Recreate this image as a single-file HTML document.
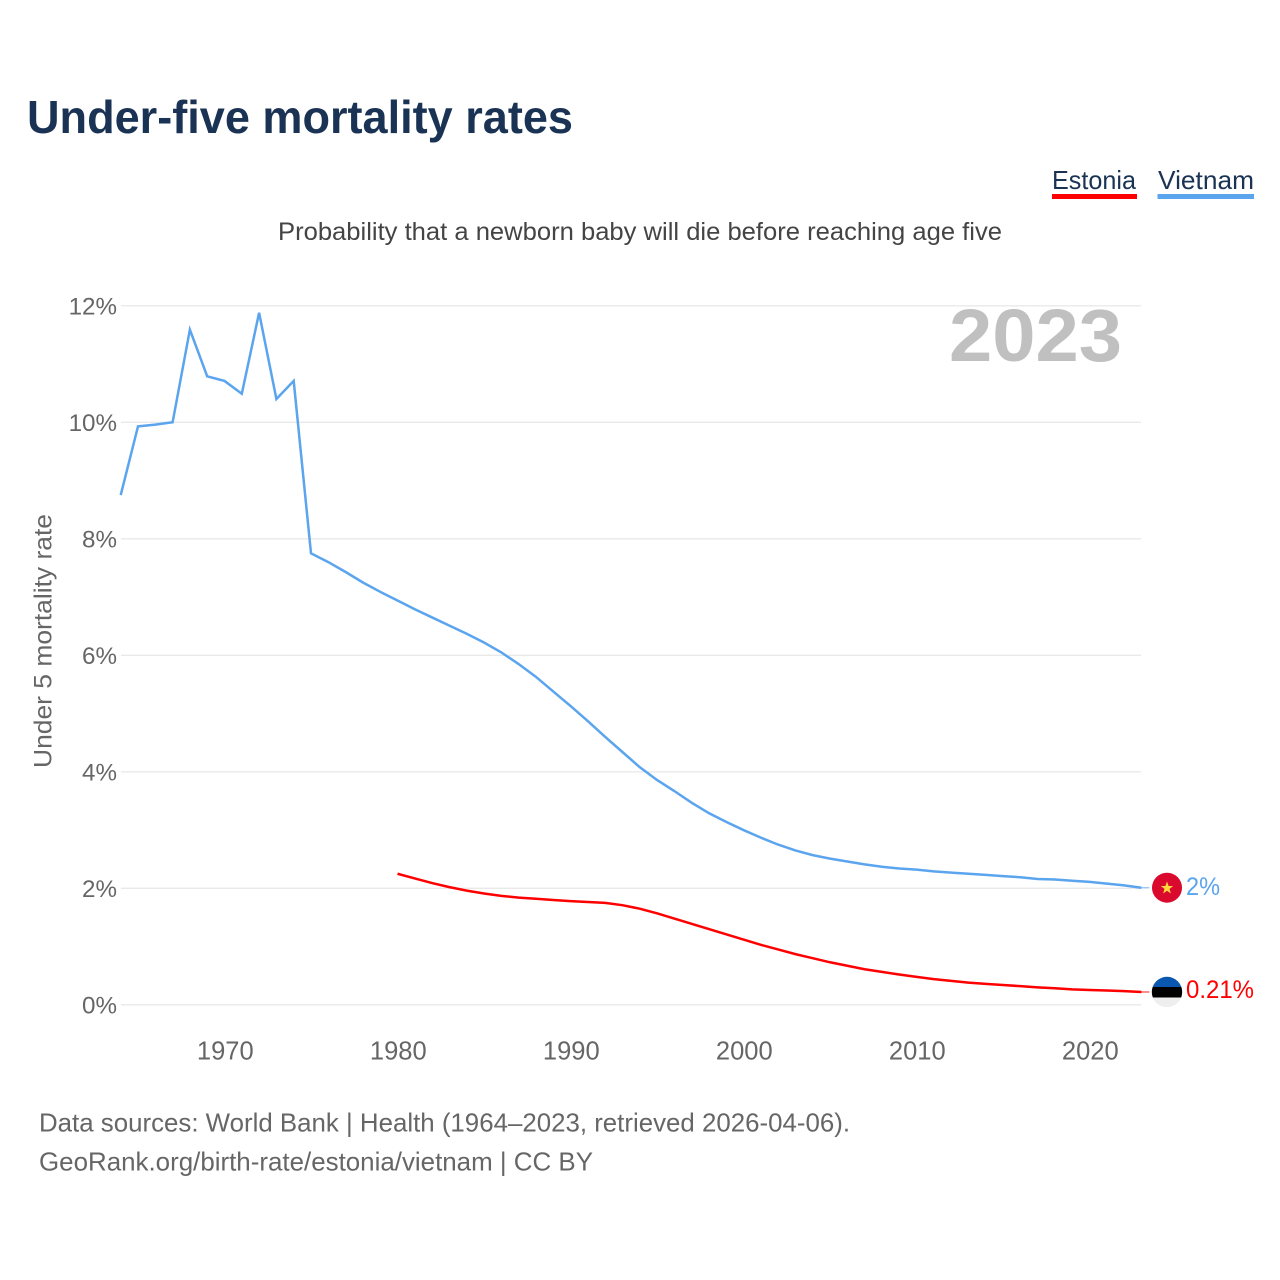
<!DOCTYPE html>
<html lang="en">
<head>
<meta charset="utf-8">
<title>Under-five mortality rates</title>
<style>
html,body{margin:0;padding:0;background:#fff;}
svg{display:block;}
text{font-family:"Liberation Sans",sans-serif;}
</style>
</head>
<body>
<svg id="chart" width="1280" height="1280" viewBox="0 0 1280 1280" xmlns="http://www.w3.org/2000/svg">
  <rect width="1280" height="1280" fill="#fff"/>
  <text x="27" y="133" font-size="46" font-weight="700" fill="#1a3354" textLength="546" lengthAdjust="spacingAndGlyphs">Under-five mortality rates</text>

  <g>
    <g>
      <text x="1052" y="189" font-size="26" fill="#1a3354" textLength="84" lengthAdjust="spacingAndGlyphs">Estonia</text>
      <rect x="1052" y="194" width="85" height="5" fill="#ff0000"/>
    </g>
    <g>
      <text x="1158" y="189" font-size="26" fill="#1a3354" textLength="96" lengthAdjust="spacingAndGlyphs">Vietnam</text>
      <rect x="1157.500" y="194" width="96.500" height="5" fill="#5ba4ee"/>
    </g>
  </g>

  <text x="278" y="240" font-size="25" fill="#444" textLength="724" lengthAdjust="spacingAndGlyphs">Probability that a newborn baby will die before reaching age five</text>

  <g id="grid"></g>
  <g id="yLabels"></g>
  <g id="xLabels"></g>

  <text transform="translate(51.500,768) rotate(-90)" x="0" y="0" font-size="25" fill="#666" textLength="254" lengthAdjust="spacingAndGlyphs">Under 5 mortality rate</text>

  <text x="949" y="361" font-size="74" font-weight="700" fill="#c0c0c0" textLength="173" lengthAdjust="spacingAndGlyphs">2023</text>

  <g id="series"></g>

  <g id="flagVietnam">
    <circle cx="1167" cy="887.700" r="15" fill="#da0a2e"/>
    <polygon points="1167,881.500 1168.600,886 1173.200,886 1169.500,888.900 1170.900,893.500 1167,890.700 1163.100,893.500 1164.500,888.900 1160.800,886 1165.400,886" fill="#ffd83d"/>
  </g>
  <g id="flagEstonia">
    <clipPath id="estClip"><circle cx="1167" cy="992" r="15.200"/></clipPath>
    <g clip-path="url(#estClip)">
      <rect x="1150" y="976" width="34" height="11" fill="#0a57b0"/>
      <rect x="1150" y="987" width="34" height="10.500" fill="#000"/>
      <rect x="1150" y="997.500" width="34" height="11" fill="#eeeeee"/>
    </g>
  </g>

  <text x="1186" y="895" font-size="25" fill="#5ba4ee" textLength="34" lengthAdjust="spacingAndGlyphs">2%</text>
  <text x="1186" y="998" font-size="25" fill="#ff0000" textLength="68" lengthAdjust="spacingAndGlyphs">0.21%</text>

  <text x="39" y="1131.500" font-size="26" fill="#666" textLength="811" lengthAdjust="spacingAndGlyphs">Data sources: World Bank | Health (1964–2023, retrieved 2026-04-06).</text>
  <text x="39" y="1170.500" font-size="26" fill="#666" textLength="554" lengthAdjust="spacingAndGlyphs">GeoRank.org/birth-rate/estonia/vietnam | CC BY</text>
</svg>
<script>
const vietnamStartYear = 1964;
const vietnamValues = [8.75,9.93,9.96,10.0,11.59,10.79,10.71,10.49,11.88,10.4,10.71,7.75,7.6,7.43,7.25,7.09,6.94,6.79,6.65,6.51,6.37,6.22,6.05,5.85,5.63,5.38,5.13,4.87,4.6,4.34,4.08,3.86,3.67,3.47,3.29,3.14,3.0,2.87,2.75,2.65,2.57,2.51,2.46,2.41,2.37,2.34,2.32,2.29,2.27,2.25,2.23,2.21,2.19,2.16,2.15,2.13,2.11,2.08,2.05,2.01];
const estoniaStartYear = 1980;
const estoniaValues = [2.25,2.17,2.09,2.02,1.96,1.91,1.87,1.84,1.82,1.8,1.78,1.765,1.75,1.71,1.65,1.57,1.48,1.39,1.3,1.21,1.12,1.03,0.95,0.87,0.8,0.73,0.67,0.61,0.565,0.52,0.48,0.44,0.41,0.38,0.36,0.34,0.32,0.3,0.285,0.265,0.255,0.245,0.235,0.22];
const yTickValues = [0,2,4,6,8,10,12];
const xTickYears = [1970,1980,1990,2000,2010,2020];

const NS = 'http://www.w3.org/2000/svg';
function xScale(year){ return 120.7 + (year - 1964) * 17.3; }
function yScale(v){ return 1004.8 - v * 58.25; }

const grid = document.getElementById('grid');
const yLabels = document.getElementById('yLabels');
const xLabels = document.getElementById('xLabels');
const seriesGroup = document.getElementById('series');

yTickValues.forEach(function(v){
  const line = document.createElementNS(NS, 'line');
  
  
  line.setAttribute('x1', 121);
  line.setAttribute('x2', 1141);
  line.setAttribute('y1', yScale(v));
  line.setAttribute('y2', yScale(v));
  line.setAttribute('stroke', '#e9e9e9');
  line.setAttribute('stroke-width', 1.3);
  grid.appendChild(line);

  const label = document.createElementNS(NS, 'text');
  
  
  label.setAttribute('x', 117);
  label.setAttribute('y', yScale(v) + 8.5);
  label.setAttribute('font-size', 24.2);
  label.setAttribute('fill', '#666');
  label.setAttribute('text-anchor', 'end');
  label.textContent = v + '%';
  yLabels.appendChild(label);
});

xTickYears.forEach(function(year){
  const label = document.createElementNS(NS, 'text');
  
  
  label.setAttribute('x', xScale(year) + 0.8);
  label.setAttribute('y', 1059.5);
  label.setAttribute('font-size', 25.5);
  label.setAttribute('fill', '#666');
  label.setAttribute('text-anchor', 'middle');
  label.textContent = String(year);
  xLabels.appendChild(label);
});

function pointsFor(values, startYear){
  return values.map(function(v, i){
    return xScale(startYear + i).toFixed(2) + ',' + yScale(v).toFixed(2);
  }).join(' ');
}

const vietnamLine = document.createElementNS(NS, 'polyline');


vietnamLine.setAttribute('points', pointsFor(vietnamValues, vietnamStartYear));
vietnamLine.setAttribute('fill', 'none');
vietnamLine.setAttribute('stroke', '#5ba4ee');
vietnamLine.setAttribute('stroke-width', 2.5);
vietnamLine.setAttribute('stroke-linejoin', 'miter');
seriesGroup.appendChild(vietnamLine);

const estoniaLine = document.createElementNS(NS, 'polyline');


estoniaLine.setAttribute('points', pointsFor(estoniaValues, estoniaStartYear));
estoniaLine.setAttribute('fill', 'none');
estoniaLine.setAttribute('stroke', '#ff0000');
estoniaLine.setAttribute('stroke-width', 2.5);
seriesGroup.appendChild(estoniaLine);

const vietnamLead = document.createElementNS(NS, 'line');


vietnamLead.setAttribute('x1', xScale(2023));
vietnamLead.setAttribute('x2', xScale(2023) + 8);
vietnamLead.setAttribute('y1', yScale(vietnamValues[vietnamValues.length - 1]));
vietnamLead.setAttribute('y2', yScale(vietnamValues[vietnamValues.length - 1]));
vietnamLead.setAttribute('stroke', '#5ba4ee');
vietnamLead.setAttribute('stroke-opacity', 0.6);
vietnamLead.setAttribute('stroke-width', 1.5);
seriesGroup.appendChild(vietnamLead);

const estoniaLead = document.createElementNS(NS, 'line');


estoniaLead.setAttribute('x1', xScale(2023));
estoniaLead.setAttribute('x2', xScale(2023) + 8);
estoniaLead.setAttribute('y1', yScale(estoniaValues[estoniaValues.length - 1]));
estoniaLead.setAttribute('y2', yScale(estoniaValues[estoniaValues.length - 1]));
estoniaLead.setAttribute('stroke', '#ff0000');
estoniaLead.setAttribute('stroke-opacity', 0.6);
estoniaLead.setAttribute('stroke-width', 1.5);
seriesGroup.appendChild(estoniaLead);
</script>
</body>
</html>
